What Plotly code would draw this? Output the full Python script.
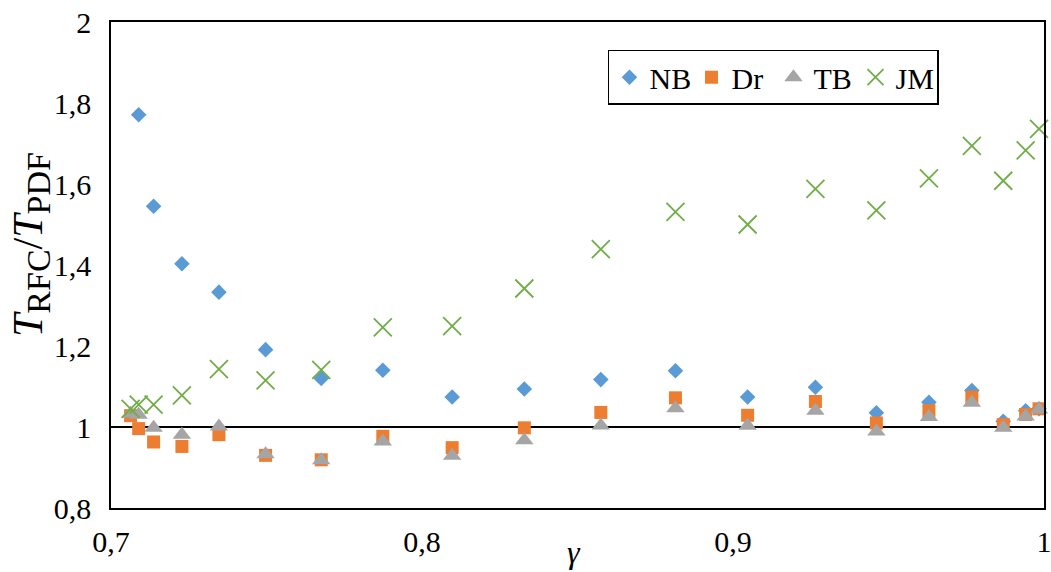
import plotly.graph_objects as go

gamma = [0.7063, 0.7089, 0.7137, 0.7228, 0.7347, 0.7497, 0.7676, 0.7874, 0.8097, 0.8329,
         0.8575, 0.8815, 0.9047, 0.9265, 0.9461, 0.9630, 0.9768, 0.9869, 0.9941, 0.9984]

nb = [None, 1.771, 1.545, 1.403, 1.333, 1.191, 1.120, 1.140, 1.074, 1.094,
      1.117, 1.139, 1.074, 1.098, 1.035, 1.061, 1.090, 1.014, 1.040, 1.045]
dr = [1.028, 0.996, 0.963, 0.952, 0.981, 0.930, 0.919, 0.977, 0.949, 0.998,
      1.036, 1.072, 1.029, 1.063, 1.010, 1.040, 1.074, 1.006, 1.031, 1.045]
tb = [1.033, 1.030, 0.998, 0.981, 1.001, 0.933, 0.918, 0.964, 0.929, 0.967,
      1.004, 1.046, 1.003, 1.040, 0.989, 1.025, 1.060, 0.998, 1.026, 1.043]
jm = [1.045, 1.055, 1.055, 1.078, 1.143, 1.115, 1.141, 1.246, 1.249, 1.342,
      1.439, 1.531, 1.500, 1.588, 1.535, 1.614, 1.694, 1.608, 1.683, 1.736]

series_names = ["NB", "Dr", "TB", "JM"]
colors = ["#5B9BD5", "#ED7D31", "#A5A5A5", "#70AD47"]
symbols = ["diamond", "square", "triangle-up", "x-thin-open"]
sizes = [12, 13, 16, 18]

x_ticks = [0.7, 0.8, 0.9, 1.0]
y_ticks = [0.8, 1.0, 1.2, 1.4, 1.6, 1.8, 2.0]

FONT = "Liberation Serif, Times New Roman, serif"

fig = go.Figure()
for name, vals, col, sym, sz in zip(series_names, [nb, dr, tb, jm], colors, symbols, sizes):
    marker = dict(symbol=sym, size=sz, color=col)
    if sym == "x-thin-open":
        marker["line"] = dict(color=col, width=1.8)
    else:
        marker["line"] = dict(width=0)
    fig.add_trace(go.Scatter(x=gamma, y=vals, mode="markers", name=name,
                             marker=marker, cliponaxis=False))

fig.add_shape(type="line", xref="paper", yref="y", x0=0, x1=1, y0=1, y1=1,
              line=dict(color="black", width=2), layer="below")

fig.add_annotation(
    text=("<i>T</i><sub><span style='font-size:34px'>RFC</span></sub>/"
          "<i>T</i><sub><span style='font-size:34px'>PDF</span></sub>"),
    xref="paper", yref="paper", x=(31 - 110.7) / 933.6, y=(508.3 - 245) / 486,
    xanchor="center", yanchor="middle", textangle=-90, showarrow=False,
    font=dict(family=FONT, size=42, color="black"))
fig.add_annotation(text="<i>γ</i>", xref="paper", yref="paper",
                   x=(574 - 110.7) / 933.6, y=(508.3 - 552) / 486,
                   xanchor="center", yanchor="middle", showarrow=False,
                   font=dict(family=FONT, size=32, color="black"))

fig.update_layout(
    width=1051, height=572,
    margin=dict(l=110.7, r=6.7, t=22.3, b=63.7, pad=0, autoexpand=False),
    plot_bgcolor="white", paper_bgcolor="white",
    separators=", ",
    font=dict(family=FONT, size=30, color="black"),
    showlegend=True,
    legend=dict(orientation="h", x=(608 - 110.7) / 933.6, y=1 - (50 - 22.3) / 486,
                xanchor="left", yanchor="top", bordercolor="black", borderwidth=1.5,
                bgcolor="white", font=dict(family=FONT, size=30, color="black"),
                itemwidth=30, entrywidth=37),
    xaxis=dict(range=[0.7, 1.0], tickvals=x_ticks, showgrid=False, zeroline=False,
               showline=True, linecolor="black", linewidth=1.5, mirror=True,
               ticks="", tickfont=dict(family=FONT, size=30, color="black"),
               ticklabelstandoff=6, ticklabeloverflow="allow", automargin=False),
    yaxis=dict(range=[0.8, 2.0], tickvals=y_ticks, showgrid=False, zeroline=False,
               showline=True, linecolor="black", linewidth=1.5, mirror=True,
               ticks="", tickfont=dict(family=FONT, size=30, color="black"),
               ticklabelstandoff=12, ticklabeloverflow="allow", automargin=False),
)

fig.write_html("out.html", config={"displayModeBar": False},
               post_script="document.body.style.margin='0px';")
